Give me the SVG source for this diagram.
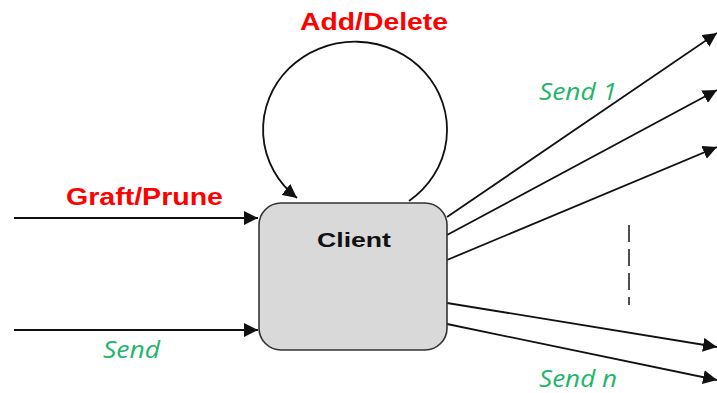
<svg xmlns="http://www.w3.org/2000/svg" width="717" height="393" viewBox="0 0 717 393">
  <style>
    .edge { fill: none; stroke: #111; stroke-width: 1.8; }
    .red { font-family: "Liberation Sans", Arial, sans-serif; font-weight: bold; font-size: 23px; fill: #ff0000; }
    .green { font-family: "Open Sans", "Liberation Sans", sans-serif; font-style: italic; font-size: 24px; fill: #22b56a; }
    .node-label { font-family: "Liberation Sans", Arial, sans-serif; font-weight: bold; font-size: 21px; fill: #111; }
  </style>
  <defs>
    <marker id="arrowL" viewBox="0 0 10 10" refX="10" refY="5" markerWidth="14" markerHeight="14" markerUnits="userSpaceOnUse" orient="auto">
      <path d="M0,0 L10,5 L0,10 z" fill="#111"/>
    </marker>
  </defs>

  <rect width="717" height="393" fill="#ffffff"/>

  <g id="connectors">
    <!-- incoming -->
    <line class="edge" x1="14" y1="218" x2="258" y2="218" marker-end="url(#arrowL)"/>
    <line class="edge" x1="14" y1="330" x2="258" y2="330" marker-end="url(#arrowL)"/>
    <!-- self loop -->
    <path class="edge" d="M409,201 A92,88 0 1 0 297,198" marker-end="url(#arrowL)"/>
    <!-- outgoing -->
    <line class="edge" x1="447" y1="217" x2="717" y2="33" marker-end="url(#arrowL)"/>
    <line class="edge" x1="447" y1="235" x2="717" y2="90" marker-end="url(#arrowL)"/>
    <line class="edge" x1="447" y1="260" x2="717" y2="147" marker-end="url(#arrowL)"/>
    <line class="edge" x1="447" y1="303" x2="717" y2="347" marker-end="url(#arrowL)"/>
    <line class="edge" x1="447" y1="324" x2="717" y2="380" marker-end="url(#arrowL)"/>
    <!-- ellipsis between outputs -->
    <line x1="629" y1="225" x2="629" y2="305" stroke="#222" stroke-width="1.6" stroke-dasharray="17 7"/>
  </g>

  <g id="client">
    <rect x="259" y="203" width="188" height="147" rx="22" ry="22" fill="#d9d9d9" stroke="#333" stroke-width="1.6"/>
    <text class="node-label" x="354" y="247" text-anchor="middle" textLength="74" lengthAdjust="spacingAndGlyphs">Client</text>
  </g>

  <g id="labels">
    <text class="red" x="300" y="30" textLength="148" lengthAdjust="spacingAndGlyphs">Add/Delete</text>
    <text class="red" x="66" y="205" textLength="157" lengthAdjust="spacingAndGlyphs">Graft/Prune</text>
    <text class="green" x="103" y="358" textLength="57" lengthAdjust="spacingAndGlyphs">Send</text>
    <text class="green" x="539" y="100" textLength="78" lengthAdjust="spacingAndGlyphs">Send 1</text>
    <text class="green" x="539" y="387" textLength="78" lengthAdjust="spacingAndGlyphs">Send n</text>
  </g>
</svg>
